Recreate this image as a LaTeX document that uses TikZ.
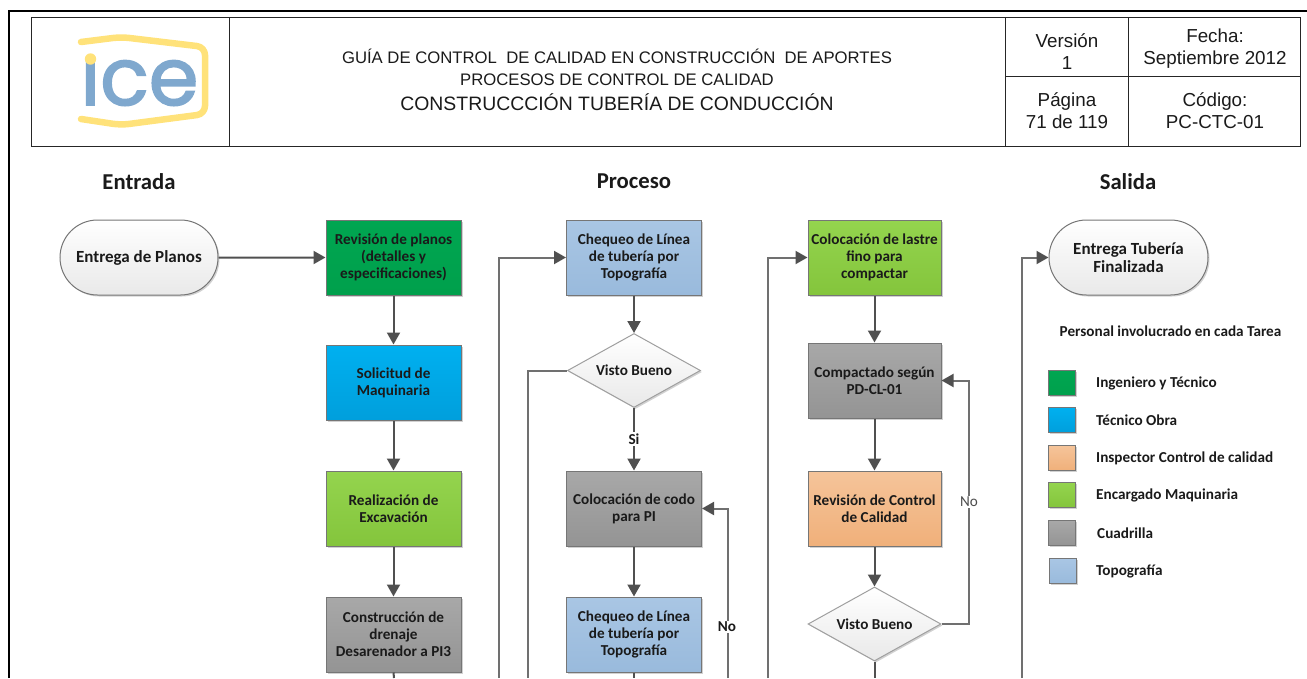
\documentclass[tikz,border=0pt]{standalone}
\usepackage{fontspec}
\setmainfont{Carlito}
\newfontfamily\arialf{Liberation Sans}
\newfontfamily\logof[RawFeature={embolden=2}]{Poppins}
\usetikzlibrary{arrows.meta,shapes.geometric,shapes.misc,shadows}
\definecolor{txt}{HTML}{1A1A1A}
\definecolor{edge}{HTML}{767676}
\definecolor{lnk}{HTML}{505050}
\definecolor{lnklong}{HTML}{707070}
\definecolor{logoY}{HTML}{FFE27A}
\definecolor{logoB}{HTML}{7FA8CE}
\definecolor{HGa}{HTML}{00A651}\definecolor{HGb}{HTML}{00A04C}
\definecolor{HBa}{HTML}{00B0F0}\definecolor{HBb}{HTML}{009FDC}
\definecolor{HLa}{HTML}{94D44E}\definecolor{HLb}{HTML}{84C53C}
\definecolor{HYa}{HTML}{A8A8A8}\definecolor{HYb}{HTML}{949494}
\definecolor{HTa}{HTML}{A9C6E4}\definecolor{HTb}{HTML}{99BADC}
\definecolor{HOa}{HTML}{F5C49A}\definecolor{HOb}{HTML}{F0B07A}
\definecolor{HWb}{HTML}{E9E9E9}
\tikzset{
  x=1pt,y=-1pt,
  shadowed/.style={drop shadow={shadow xshift=1.5pt,shadow yshift=-1.5pt,opacity=.18,fill=black}},
  stepbox/.style={rectangle,draw=edge,line width=1pt,minimum width=135pt,minimum height=75pt,inner sep=1pt,align=center,
    font=\fontsize{15.2}{17}\selectfont\bfseries,text=txt,shadowed},
  swatch/.style={rectangle,draw=edge,line width=1pt,minimum width=27pt,minimum height=25pt,inner sep=0pt,shadowed},
  cgreen/.style={top color=HGa,bottom color=HGb},
  cblue/.style={top color=HBa,bottom color=HBb},
  clime/.style={top color=HLa,bottom color=HLb},
  cgray/.style={top color=HYa,bottom color=HYb},
  ctopo/.style={top color=HTa,bottom color=HTb},
  corange/.style={top color=HOa,bottom color=HOb},
  cwhite/.style={top color=white,bottom color=HWb},
  term/.style={rounded rectangle,draw=edge,line width=1pt,minimum width=160pt,minimum height=75pt,inner sep=1pt,align=center,
    cwhite,font=\fontsize{17}{18}\selectfont\bfseries,text=txt,shadowed},
  gate/.style={diamond,aspect=1.8,draw=edge!70,line width=1pt,minimum width=133pt,minimum height=74pt,inner sep=0pt,
    cwhite,font=\fontsize{15.2}{17}\selectfont\bfseries,text=txt,shadowed},
  flow/.style={draw=lnk,line width=2pt,-{Triangle[length=12pt,width=13pt]}},
  flowlong/.style={draw=lnklong,line width=2pt,-{Triangle[length=12pt,width=13pt,color=lnk]}},
  flowplain/.style={draw=lnk,line width=2pt},
  longplain/.style={draw=lnklong,line width=2pt},
  lbl/.style={fill=white,inner sep=1.5pt,font=\fontsize{15.2}{17}\selectfont\bfseries,text=txt},
  head/.style={font=\fontsize{22.7}{24}\selectfont\bfseries,text=txt},
  legendtxt/.style={anchor=west,inner sep=0pt,font=\fontsize{15.2}{17}\selectfont\bfseries,text=txt},
  cell/.style={font=\arialf\fontsize{18.8}{22}\selectfont,text=txt,align=center},
  grid/.style={draw=black!85,line width=1pt},
}
\begin{document}
\begin{tikzpicture}
\useasboundingbox (0,0) rectangle (1307,678);
% page frame
\coordinate (pa) at (9,678);\coordinate (pb) at (9,11);\coordinate (pc) at (1307,11);
\draw[black,line width=2.4pt] (pa) -- (pb) -- (pc);
% header table
\draw[grid] (31,17) rectangle (1300,146);
\draw[grid] (229,17) -- (229,146);
\draw[grid] (1005,17) -- (1005,146);
\draw[grid] (1128,17) -- (1128,146);
\draw[grid] (1005,76.5) -- (1300,76.5);
% logo
\node[text=logoB,font=\logof\fontsize{80}{80}\selectfont,inner sep=0pt,anchor=base] (logo) at (139.5,105) {ice};
\fill[white] (80,36) rectangle (103,57);
\draw[logoY,line width=6.5pt,line cap=round,line join=round,rounded corners=8pt]
  (81,42) -- (121,37) -- (205,47) -- (205,114) -- (121,125) -- (81,119);
\fill[logoY] (90.5,59) circle (5.7);
% table texts
\node[font=\arialf\fontsize{16.7}{22}\selectfont,text=txt,align=center] (t1) at (617,67.5) {GUÍA DE CONTROL\ \ DE CALIDAD EN CONSTRUCCIÓN\ \ DE APORTES\\PROCESOS DE CONTROL\ DE CALIDAD};
\node[font=\arialf\fontsize{19.4}{22}\selectfont,text=txt] (t2) at (617,102.5) {CONSTRUCCCIÓN TUBERÍA DE CONDUCCIÓN};
\node[cell] (c1) at (1067,52) {Versión\\1};
\node[cell] (c2) at (1215,49) {Fecha:\\Septiembre 2012};
\node[cell] (c3) at (1067,110.5) {Página\\71 de 119};
\node[cell] (c4) at (1215,111) {Código:\\PC-CTC-01};
% column heads
\node[head] (h1) at (139,181.5) {Entrada};
\node[head] (h2) at (634,181.5) {Proceso};
\node[head] (h3) at (1128,181.5) {Salida};
% nodes
\node[term] (in) at (139,257.5) {Entrega de Planos};
\node[stepbox,cgreen] (a1) at (393.5,257.5) {Revisión de planos\\(detalles y\\especificaciones)};
\node[stepbox,cblue] (a2) at (393.5,382.5) {Solicitud de\\Maquinaria};
\node[stepbox,clime] (a3) at (393.5,508.5) {Realización de\\Excavación};
\node[stepbox,cgray] (a4) at (393.5,634.5) {Construcción de\\drenaje\\Desarenador a PI3};
\node[stepbox,ctopo] (b1) at (634,257.5) {Chequeo de Línea\\de tubería por\\Topografía};
\node[gate] (d1) at (634,370.5) {Visto Bueno};
\node[stepbox,cgray] (b2) at (634,508.5) {Colocación de codo\\para PI};
\node[stepbox,ctopo] (b3) at (634,634.5) {Chequeo de Línea\\de tubería por\\Topografía};
\node[stepbox,clime,minimum width=133pt] (e1) at (874.5,257.5) {Colocación de lastre\\fino para\\compactar};
\node[stepbox,cgray,minimum width=133pt] (e2) at (874.5,380.5) {Compactado según\\PD-CL-01};
\node[stepbox,corange,minimum width=133pt] (e3) at (874.5,508.5) {Revisión de Control\\de Calidad};
\node[gate] (d2) at (874.5,624) {Visto Bueno};
\node[term,minimum width=161pt] (out) at (1128.5,257.5) {Entrega Tubería\\Finalizada};
% free ends
\coordinate (f1) at (394,678);
\coordinate (f2) at (499,678);
\coordinate (f3) at (528,678);
\coordinate (f4) at (634,678);
\coordinate (f5) at (728,678);
\coordinate (f6) at (768,678);
\coordinate (f7) at (874.5,678);
\coordinate (f8) at (1022,678);
\coordinate (n1) at (969,624);
% connectors
\draw[flow] (in) -- (a1);
\draw[flow] (a1) -- (a2);
\draw[flow] (a2) -- (a3);
\draw[flow] (a3) -- (a4);
\draw[flowplain] (a4.south) -- (f1);
\draw[flowlong] (f2) |- (b1);
\draw[flow] (b1) -- (d1);
\draw[longplain] (d1.west) -| (f3);
\draw[flow] (d1) -- (b2);
\draw[flow] (b2) -- (b3);
\draw[flowplain] (b3.south) -- (f4);
\draw[flowlong] (f5) |- (b2);
\draw[flowlong] (f6) |- (e1);
\draw[flow] (e1) -- (e2);
\draw[flow] (e2) -- (e3);
\draw[flow] (e3) -- (d2);
\draw[flowplain] (d2.south) -- (f7);
\draw[flowlong] (d2.east) -- (n1) |- (e2);
\draw[flowlong] (f8) |- (out);
% connector labels
\node[lbl] (si) at (634,439) {Si};
\node[lbl] (no1) at (727,627) {No};
\node[lbl,font=\fontsize{15.2}{17}\selectfont,text=black!70] (no2) at (969,502) {No};
% legend
\node[anchor=center,inner sep=0pt,font=\fontsize{15.2}{17}\selectfont\bfseries,text=txt] (lt) at (1170.5,331) {Personal involucrado en cada Tarea};
\node[swatch,cgreen] (s1) at (1062,383) {};
\node[swatch,cblue] (s2) at (1062,420) {};
\node[swatch,corange] (s3) at (1062,458) {};
\node[swatch,clime] (s4) at (1062,495) {};
\node[swatch,cgray] (s5) at (1062,533) {};
\node[swatch,ctopo] (s6) at (1063,571) {};
\node[legendtxt] (l1) at (1096,383) {Ingeniero y Técnico};
\node[legendtxt] (l2) at (1096,420) {Técnico Obra};
\node[legendtxt] (l3) at (1096,458) {Inspector Control de calidad};
\node[legendtxt] (l4) at (1096,495) {Encargado Maquinaria};
\node[legendtxt] (l5) at (1097,533.5) {Cuadrilla};
\node[legendtxt] (l6) at (1096,571) {Topografía};
\end{tikzpicture}
\end{document}
